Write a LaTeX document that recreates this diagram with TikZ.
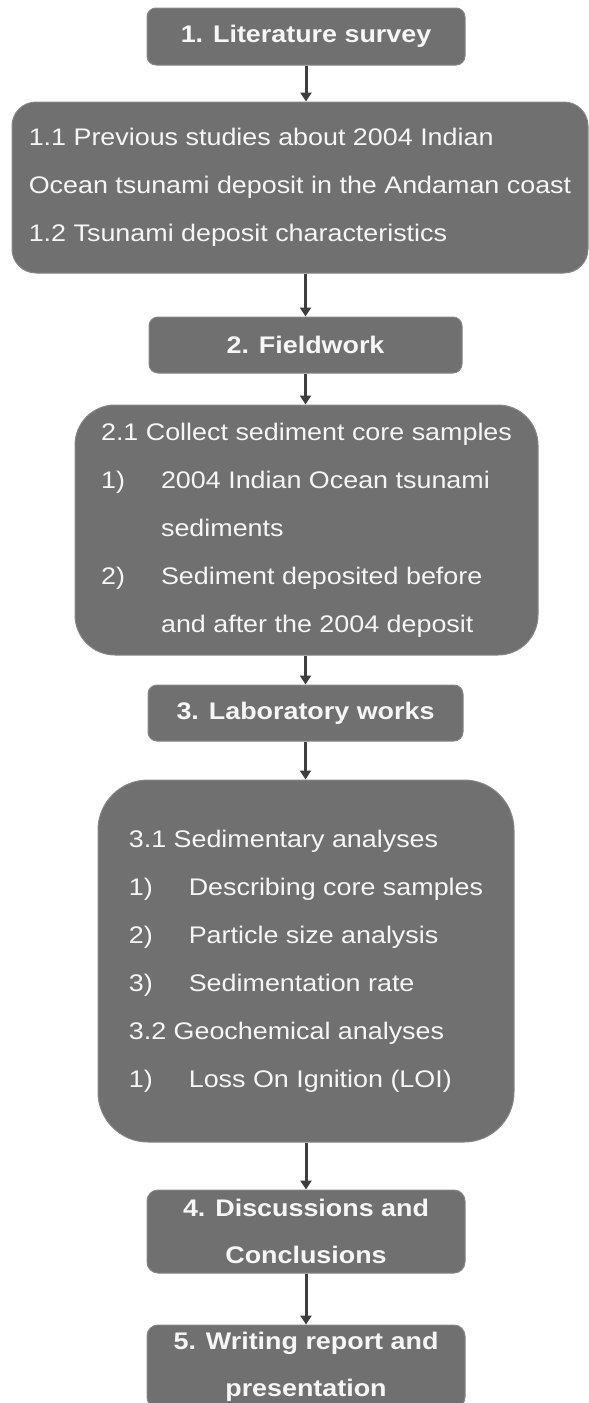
\documentclass[tikz,border=0pt]{standalone}
\usepackage{fontspec}
\setmainfont{Liberation Sans}[FakeStretch=1.12]
\usetikzlibrary{arrows.meta}

\definecolor{boxgray}{RGB}{112,112,112}
\definecolor{boxedge}{RGB}{135,135,135}
\definecolor{arrowgray}{RGB}{62,62,62}
\definecolor{textwhite}{RGB}{246,246,246}

\newcommand{\stepitem}[2]{\makebox[60pt][l]{#1}#2}

\tikzset{
	stepbox/.style={draw=boxedge, line width=1pt, fill=boxgray, text=textwhite, inner sep=0pt,
		font=\fontsize{24}{47}\selectfont\bfseries, align=center},
	listbox/.style={draw=boxedge, line width=1pt, fill=boxgray, text=textwhite, inner sep=0pt,
		font=\fontsize{24}{48}\selectfont, align=left},
	flowarrow/.style={draw=arrowgray, line width=3pt, -{Triangle[width=11pt,length=9pt]}}
}

\begin{document}
\begin{tikzpicture}[x=1pt, y=-1pt]
				\useasboundingbox (0,0) rectangle (589,1403);
				\clip (0,0) rectangle (589,1403);

				% Literature survey
				\node[stepbox, rounded corners=9pt, minimum width=318pt, minimum height=57pt] (lit) at (306,36.5) {1. Literature survey};
				\node[listbox, rounded corners=24pt, minimum width=576pt, minimum height=171pt] (litsub) at (300,187.5)
					{1.1 Previous studies about 2004 Indian\\
					Ocean tsunami deposit in the Andaman coast\\
					1.2 Tsunami deposit characteristics};

				% Fieldwork
				\node[stepbox, rounded corners=9pt, minimum width=313pt, minimum height=56pt] (field) at (305.5,345) {2. Fieldwork};
				\node[listbox, rounded corners=40pt, minimum width=463pt, minimum height=250pt] (fieldsub) at (306.5,530)
					{2.1 Collect sediment core samples\\
					\stepitem{1)}{2004 Indian Ocean tsunami}\\
					\stepitem{}{sediments}\\
					\stepitem{2)}{Sediment deposited before}\\
					\stepitem{}{and after the 2004 deposit}};

				% Laboratory works
				\node[stepbox, rounded corners=9pt, minimum width=315pt, minimum height=56pt] (lab) at (305.5,713) {3. Laboratory works};
				\node[listbox, rounded corners=50pt, minimum width=416pt, minimum height=362pt] (labsub) at (306,961)
					{3.1 Sedimentary analyses\\
					\stepitem{1)}{Describing core samples}\\
					\stepitem{2)}{Particle size analysis}\\
					\stepitem{3)}{Sedimentation rate}\\
					3.2 Geochemical analyses\\
					\stepitem{1)}{Loss On Ignition (LOI)}};

				% Discussions and report
				\node[stepbox, rounded corners=11pt, minimum width=318pt, minimum height=83pt] (disc) at (306,1231.5) {4. Discussions and\\Conclusions};
				\node[stepbox, rounded corners=11pt, minimum width=318pt, minimum height=83pt] (report) at (306,1366.5) {5. Writing report and\\presentation};

				% Arrows
				\draw[flowarrow] (lit.south) -- (lit.south |- litsub.north);
				\draw[flowarrow] (field.south |- litsub.south) -- (field.north);
				\draw[flowarrow] (field.south) -- (field.south |- fieldsub.north);
				\draw[flowarrow] (lab.north |- fieldsub.south) -- (lab.north);
				\draw[flowarrow] (lab.south) -- (lab.south |- labsub.north);
				\draw[flowarrow] (disc.north |- labsub.south) -- (disc.north);
				\draw[flowarrow] (disc.south) -- (report.north);
			\end{tikzpicture}
\end{document}
